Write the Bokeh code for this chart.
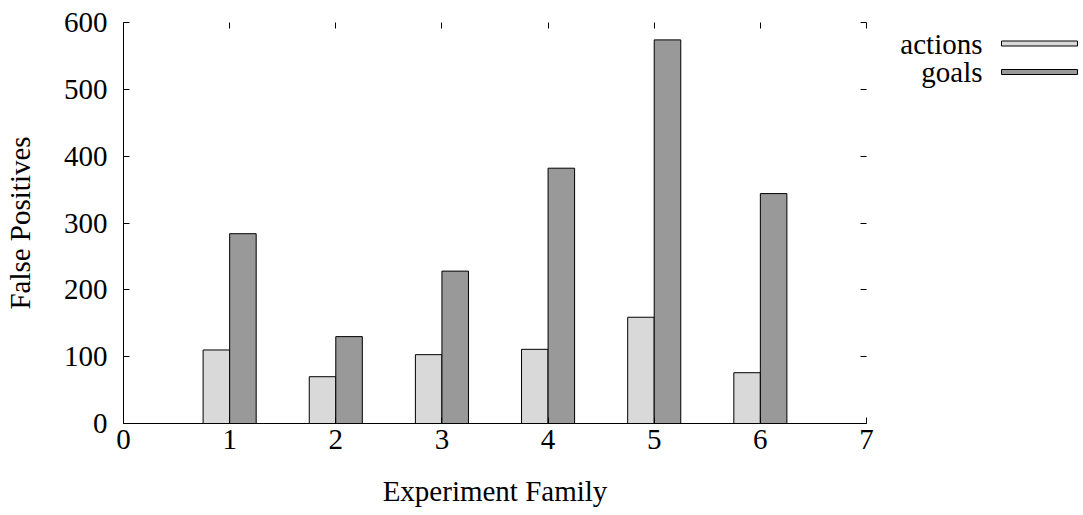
from bokeh.plotting import figure
from bokeh.layouts import row
from bokeh.models import LinearAxis, FixedTicker, CustomJSTickFormatter, ColumnDataSource
from bokeh.embed import file_html
from bokeh.resources import INLINE
from bokeh.core.properties import value

families = [1, 2, 3, 4, 5, 6]
actions = [110, 70, 103, 111, 159, 76]
goals = [284, 130, 228, 382, 574, 344]
series_names = ["actions", "goals"]
series_colors = ["#d9d9d9", "#999999"]
x_ticks = [0, 1, 2, 3, 4, 5, 6, 7]
y_ticks = [0, 100, 200, 300, 400, 500, 600]

FONT = "Liberation Serif"
FS = "29px"

p = figure(width=880, height=515, x_range=(0, 7), y_range=(0, 600),
           output_backend="svg", toolbar_location=None,
           min_border_left=123, min_border_right=14, min_border_top=22, min_border_bottom=92)
p.outline_line_color = None
p.xgrid.visible = False
p.ygrid.visible = False
p.background_fill_color = "white"
p.border_fill_color = "white"

bw = 0.25
src = ColumnDataSource(dict(
    xa=[f - bw / 2 for f in families], xg=[f + bw / 2 for f in families],
    actions=actions, goals=goals))
p.vbar(x="xa", top="actions", bottom=0, width=bw, source=src,
       fill_color=series_colors[0], line_color="black", line_width=1)
p.vbar(x="xg", top="goals", bottom=0, width=bw, source=src,
       fill_color=series_colors[1], line_color="black", line_width=1)

for ax in (p.xaxis[0], p.yaxis[0]):
    ax.major_tick_in = 6
    ax.major_tick_out = 0
    ax.minor_tick_line_color = None
    ax.axis_line_color = "black"
    ax.major_tick_line_color = "black"
    ax.major_label_text_font = FONT
    ax.major_label_text_font_size = FS
    ax.major_label_text_color = "black"
    ax.axis_label_text_font = FONT
    ax.axis_label_text_font_size = FS
    ax.axis_label_text_font_style = "normal"
    ax.axis_label_text_color = "black"

p.xaxis[0].ticker = FixedTicker(ticks=x_ticks)
p.yaxis[0].ticker = FixedTicker(ticks=y_ticks)
p.xaxis[0].axis_label = "Experiment Family"
p.yaxis[0].axis_label = "False Positives"
p.xaxis[0].major_label_standoff = 6
p.xaxis[0].axis_label_standoff = 23
p.yaxis[0].major_label_standoff = 16
p.yaxis[0].axis_label_standoff = 25

blank = CustomJSTickFormatter(code="return ''")
top = LinearAxis(ticker=FixedTicker(ticks=x_ticks), formatter=blank,
                 major_tick_in=6, major_tick_out=0, minor_tick_line_color=None,
                 axis_line_color=None, major_label_standoff=0)
right = LinearAxis(ticker=FixedTicker(ticks=y_ticks), formatter=blank,
                   major_tick_in=6, major_tick_out=0, minor_tick_line_color=None,
                   axis_line_color=None, major_label_standoff=0)
p.add_layout(top, "above")
p.add_layout(right, "right")

# legend panel; its frame is aligned with the main frame (screen y 22..423)
lg = figure(width=203, height=515, x_range=(880, 1083), y_range=(423, 22),
            output_backend="svg", toolbar_location=None, min_border=0)
lg.axis.visible = False
lg.grid.visible = False
lg.outline_line_color = None
ys = [43, 71.5]
lg.text(x=[982, 982], y=ys, text=series_names, text_align="right", text_baseline="middle",
        text_font=value(FONT), text_font_size=FS, text_color="black")
lg.rect(x=[1039, 1039], y=ys, width=76, height=5, fill_color=series_colors,
        line_color="black", line_width=1)

layout = row(p, lg)
open("out.html", "w").write(file_html(layout, INLINE))
